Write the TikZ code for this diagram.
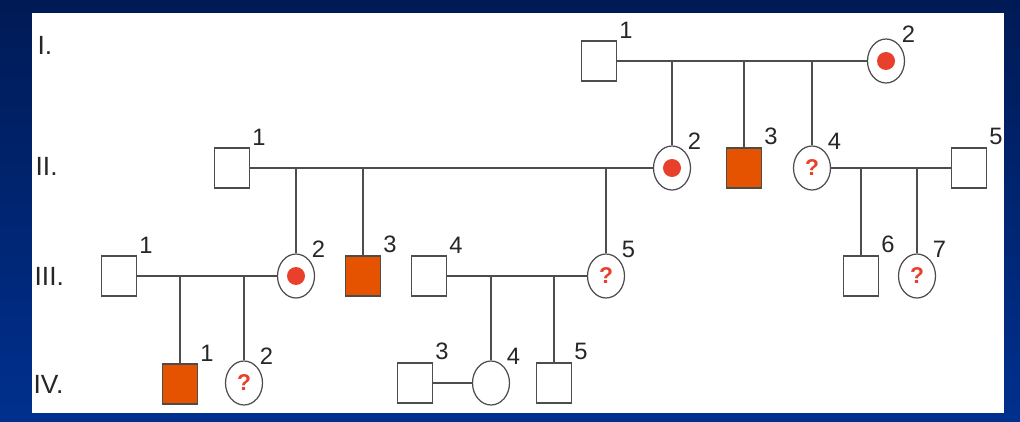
\documentclass[tikz,border=0pt]{standalone}
\usepackage{fontspec}
\setmainfont{Liberation Sans}
\usepackage{tikz}
\usetikzlibrary{shapes.geometric}
\definecolor{lineGray}{HTML}{4D4D4D}
\definecolor{dotRed}{HTML}{E8402A}
\definecolor{affOrange}{HTML}{E65300}
\definecolor{bgTop}{HTML}{001A55}
\definecolor{bgBottom}{HTML}{00308E}
\tikzset{
    male/.style={rectangle, draw=lineGray, fill=white, minimum width=0.7cm, minimum height=0.8cm, inner sep=0pt},
    female/.style={ellipse, draw=lineGray, fill=white, minimum width=0.74cm, minimum height=0.88cm, inner sep=0pt},
    affected/.style={male, fill=affOrange, draw=black!70},
    carrier/.style={female, path picture={\fill[dotRed] (path picture bounding box.center) circle (0.18cm);}},
    unknown/.style={female, text=dotRed, font=\fontsize{13}{13}\selectfont\bfseries},
    num/.style={label={[text=black!85, font=\fontsize{13.5}{14}\selectfont, inner sep=1pt]north east:#1}},
    gen/.style={anchor=west, text=black!85, font=\fontsize{15}{16}\selectfont, inner sep=0pt}
}

\begin{document}
\begin{tikzpicture}[x=0.02cm, y=-0.02cm, lineGray, line width=0.7pt]
            % background and panel
            \shade[top color=bgTop, bottom color=bgBottom, draw=none] (0,0) rectangle (1020,422);
            \fill[white] (32,13) rectangle (1004,413);
            
            % generation labels
            \node[gen] (gI) at (37,45) {I.};
            \node[gen] (gII) at (35,166) {II.};
            \node[gen] (gIII) at (34,276) {III.};
            \node[gen] (gIV) at (33,384) {IV.};
            
            % I
            \node[male, num=1] (a1) at (599,61) {};
            \node[carrier, num=2] (a2) at (886,61) {};
            
            % II
            \node[male, num=1] (b1) at (232,168) {};
            \node[carrier, num=2] (b2) at (672,168) {};
            \node[affected, num=3] (b3) at (744,168) {};
            \node[unknown, num=4] (b4) at (812,168) {?};
            \node[male, num=5] (b5) at (969,168) {};
            
            % III
            \node[male, num=1] (c1) at (119,276) {};
            \node[carrier, num=2] (c2) at (296,276) {};
            \node[affected, num=3] (c3) at (363,276) {};
            \node[male, num=4] (c4) at (429,276) {};
            \node[unknown, num=5] (c5) at (606,276) {?};
            \node[male, num=6] (c6) at (861,276) {};
            \node[unknown, num=7] (c7) at (917,276) {?};
            
            % IV
            \node[affected, num=1] (d1) at (180,384) {};
            \node[unknown, num=2] (d2) at (244,383) {?};
            \node[male, num=3] (d3) at (415,383) {};
            \node[female, num=4] (d4) at (491,383) {};
            \node[male, num=5] (d5) at (554,383) {};
            
            % Couples
            \draw (a1.east) -- (a2.west);
            \draw (b1.east) -- (b2.west);
            \draw (b4.east) -- (b5.west);
            \draw (c1.east) -- (c2.west);
            \draw (c4.east) -- (c5.west);
            \draw (d3.east) -- (d4.west);
            
            % Children
            \foreach \c in {b2,b3,b4}
                \draw (\c.north |- a1.east) -- (\c.north);
            \foreach \c in {c2,c3,c5}
                \draw (\c.north |- b1.east) -- (\c.north);
            \foreach \c in {c6,c7}
                \draw (\c.north |- b5.west) -- (\c.north);
            \foreach \c in {d1,d2}
                \draw (\c.north |- c1.east) -- (\c.north);
            \foreach \c in {d4,d5}
                \draw (\c.north |- c4.east) -- (\c.north);
        \end{tikzpicture}
\end{document}
